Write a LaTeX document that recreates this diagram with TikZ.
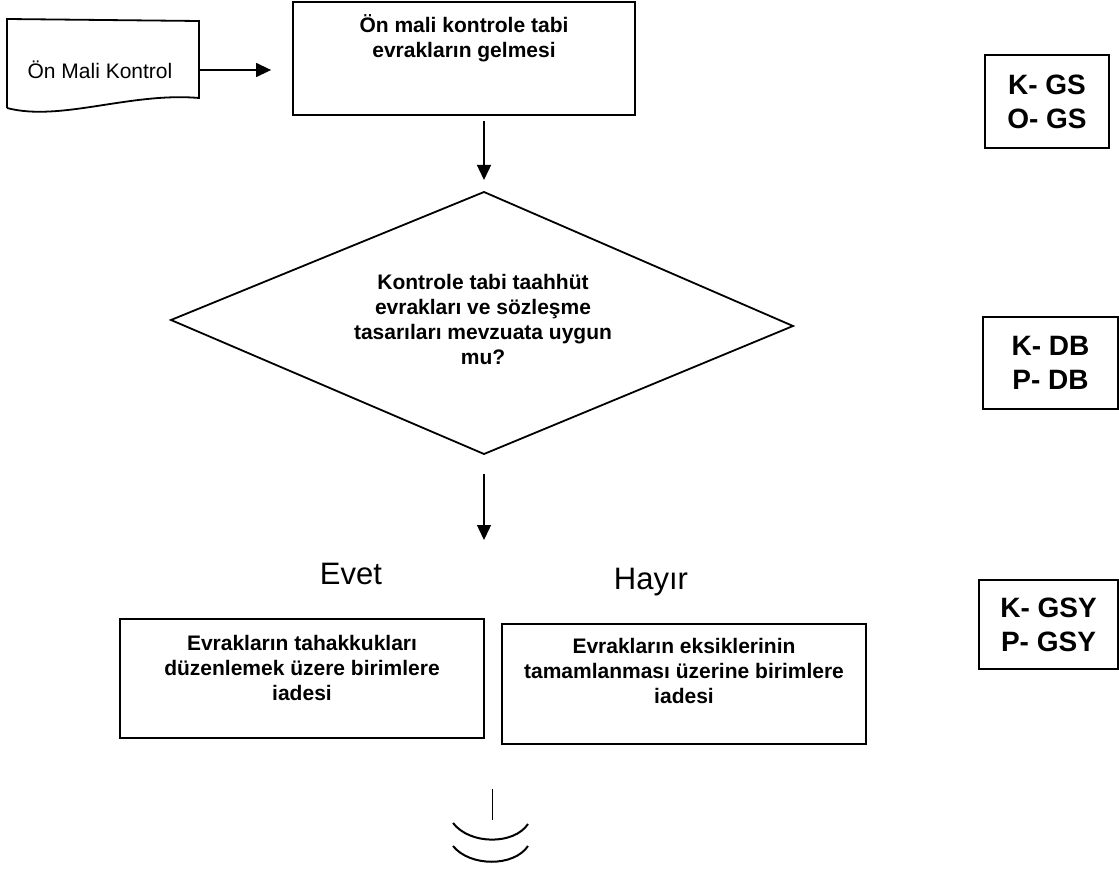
\documentclass[tikz,border=0pt]{standalone}
\usepackage{fontspec}
\setmainfont{Liberation Sans}
\usetikzlibrary{shapes,positioning,arrows.meta,calc}

\begin{document}
\begin{tikzpicture}[x=1pt, y=-1pt,
    box/.style = {draw, line width=1.8pt, inner sep=0pt},
    txt/.style = {font=\fontsize{21}{25}\selectfont\bfseries, align=center, inner sep=0pt},
    tag/.style = {draw, line width=1.8pt, font=\fontsize{28}{34}\selectfont\bfseries, align=center, inner sep=0pt},
    yanit/.style = {font=\fontsize{31}{31}\selectfont, anchor=base, inner sep=0pt},
    flow/.style = {-{Triangle[length=15pt, width=14pt]}, line width=1.4pt}]
        \useasboundingbox (0,0) rectangle (1119,869);
        \draw [line width=1.8pt] (7,108) -- (7,19) -- (199,21) -- (199,98) .. controls (130,92) and (60,122) .. (7,108);
        \node [font=\fontsize{21}{25}\selectfont] (doc) at (100,70) {Ön Mali Kontrol};
        \coordinate (docr) at (199,70);
        \node [box, minimum width=342pt, minimum height=113pt] (box1) at (464,58.5) {};
        \node [txt, below=13.5pt of box1.north] (box1txt) {Ön mali kontrole tabi\\evrakların gelmesi};
        \draw [flow, shorten >=21pt] (docr) -- (docr -| box1.west);
        \coordinate (dtop) at (484,192);
        \coordinate (dright) at (793,326);
        \coordinate (dbot) at (484,454);
        \coordinate (dleft) at (171,320);
        \draw [line width=1.8pt] (dtop) -- (dright) -- (dbot) -- (dleft) -- cycle;
        \node [txt] (soru) at (483,319) {Kontrole tabi taahhüt\\evrakları ve sözleşme\\tasarıları mevzuata uygun\\mu?};
        \draw [flow, shorten <=5pt, shorten >=12pt] (box1.south -| dtop) -- (dtop);
        \coordinate (a2) at (484,540);
        \draw [flow, shorten <=20pt] (dbot) -- (a2);
        \node [yanit] (evet) at (351,584) {Evet};
        \node [yanit] (hayir) at (651,589) {Hayır};
        \node [box, minimum width=364pt, minimum height=119pt] (evetbox) at (302,678.5) {};
        \node [txt, below=17pt of evetbox.north] (evettxt) {Evrakların tahakkukları\\düzenlemek üzere birimlere\\iadesi};
        \node [box, minimum width=364pt, minimum height=120pt] (hayirbox) at (684,684) {};
        \node [txt, below=15pt of hayirbox.north] (hayirtxt) {Evrakların eksiklerinin\\tamamlanması üzerine birimlere\\iadesi};
        \node [tag, minimum width=124pt, minimum height=93pt] (kgs) at (1047,101.5) {K- GS\\O- GS};
        \node [tag, minimum width=135pt, minimum height=92pt] (kdb) at (1050.5,363) {K- DB\\P- DB};
        \node [tag, minimum width=139pt, minimum height=89pt] (kgsy) at (1048.5,624.5) {K- GSY\\P- GSY};
        \coordinate (devam) at (492,789);
        \draw [line width=1pt] (devam) -- ++(0,31);
        \draw [line width=2pt] (453,823) .. controls (470,845) and (514,845) .. (528,824);
        \draw [line width=2pt] (453,846) .. controls (470,867) and (514,867) .. (528,846);
\end{tikzpicture}
\end{document}
